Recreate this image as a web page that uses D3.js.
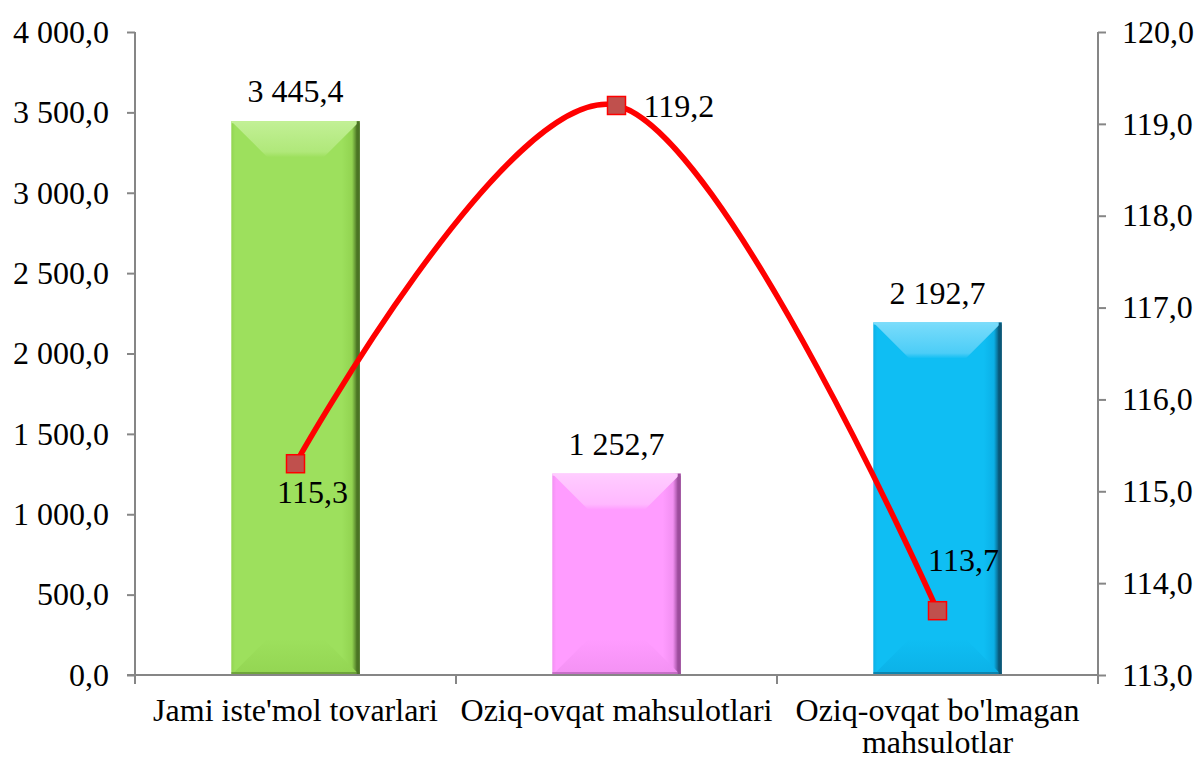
<!DOCTYPE html>
<html><head><meta charset="utf-8">
<script src="https://cdn.jsdelivr.net/npm/d3@7"></script>
<style>body{margin:0;background:#fff}svg{display:block}</style>
</head><body>
<svg id="c" width="1200" height="760"></svg>
<script>
const categories = [["Jami iste'mol tovarlari"], ["Oziq-ovqat mahsulotlari"], ["Oziq-ovqat bo'lmagan", "mahsulotlar"]];
const barValues = [3445.4, 1252.7, 2192.7];
const indexValues = [115.3, 119.2, 113.7];
const leftTicks = [0, 500, 1000, 1500, 2000, 2500, 3000, 3500, 4000];
const rightTicks = [113, 114, 115, 116, 117, 118, 119, 120];
const barColors = [
  {face:"#9de05d", light:"#c2f096", mid:"#92d451", dark:"#4a7424", edge:"#b0e87a"},
  {face:"#ff9cff", light:"#ffccff", mid:"#f290f2", dark:"#9c4c9c", edge:"#ffb8ff"},
  {face:"#0fbef3", light:"#7adcfb", mid:"#0bb0e6", dark:"#0a5878", edge:"#4ccdf7"}
];
const labelPos = ["below", "right", "aboveRight"];

const FONT = "Liberation Serif", FS = "32px";
const loc = d3.formatLocale({decimal: ",", thousands: " ", grouping: [3], currency: ["", ""]});
const fmt = loc.format(",.1f");

const svg = d3.select("#c");
const L = 135, R = 1098, T = 32, B = 675;
const x = d3.scaleBand().domain(d3.range(categories.length)).range([L, R]).paddingInner(0.6).paddingOuter(0.3);
const xc = d3.scaleBand().domain(d3.range(categories.length)).range([L, R]);
const yL = d3.scaleLinear().domain([0, 4000]).range([B, T]);
const yR = d3.scaleLinear().domain([113, 120]).range([B, T]);

function txt(sel) { return sel.style("font-family", FONT).style("font-size", FS).style("fill", "#000"); }

const defs = svg.append("defs");
barColors.forEach((c, i) => {
  const g = defs.append("linearGradient").attr("id", "h" + i).attr("x1", 0).attr("x2", 1).attr("y1", 0).attr("y2", 0);
  [[0, c.mid], [0.03, c.face], [0.86, c.face], [0.94, c.mid], [0.98, c.dark], [1, c.dark]].forEach(s => g.append("stop").attr("offset", s[0]).attr("stop-color", s[1]));
  const t = defs.append("linearGradient").attr("id", "t" + i).attr("x1", 0).attr("x2", 0).attr("y1", 0).attr("y2", 1);
  [[0, c.light], [0.85, c.edge], [1, c.face]].forEach(s => t.append("stop").attr("offset", s[0]).attr("stop-color", s[1]));
  const b = defs.append("linearGradient").attr("id", "b" + i).attr("x1", 0).attr("x2", 0).attr("y1", 0).attr("y2", 1);
  [[0, c.face], [1, c.mid]].forEach(s => b.append("stop").attr("offset", s[0]).attr("stop-color", s[1]));
});

const axL = svg.append("g").attr("transform", `translate(${L},0)`)
  .call(d3.axisLeft(yL).tickValues(leftTicks).tickFormat(fmt).tickSize(8).tickPadding(18));
const axR = svg.append("g").attr("transform", `translate(${R},0)`)
  .call(d3.axisRight(yR).tickValues(rightTicks).tickFormat(fmt).tickSize(8).tickPadding(16));
[axL, axR].forEach(a => {
  a.select(".domain").attr("d", `M0,${T}V${B}`).attr("stroke", "#868686").attr("stroke-width", 2);
  a.selectAll(".tick line").attr("stroke", "#868686").attr("stroke-width", 2);
  txt(a.selectAll("text"));
});

const bev = 36;
barValues.forEach((v, i) => {
  const x0 = x(i), w = x.bandwidth(), x1 = x0 + w, y0 = yL(v), y1 = yL(0);
  const g = svg.append("g");
  g.append("rect").attr("x", x0).attr("y", y0).attr("width", w).attr("height", y1 - y0).attr("fill", `url(#h${i})`);
  g.append("polygon").attr("points", [[x0, y0], [x1, y0], [x1 - bev, y0 + bev], [x0 + bev, y0 + bev]].join(" ")).attr("fill", `url(#t${i})`);
  g.append("polygon").attr("points", [[x0, y1], [x1, y1], [x1 - bev, y1 - bev], [x0 + bev, y1 - bev]].join(" ")).attr("fill", `url(#b${i})`).attr("opacity", 0.9);
  g.append("rect").attr("x", x0).attr("y", y0).attr("width", w).attr("height", 2).attr("fill", barColors[i].light);
  g.append("rect").attr("x", x1 - 3).attr("y", y0).attr("width", 3).attr("height", y1 - y0).attr("fill", barColors[i].dark);
  g.append("rect").attr("x", x0).attr("y", y1 - 3).attr("width", w).attr("height", 3).attr("fill", barColors[i].dark).attr("opacity", 0.5);
  txt(svg.append("text").attr("x", x0 + w / 2).attr("y", y0 - 19).attr("text-anchor", "middle")).text(fmt(v));
});

svg.append("line").attr("x1", L - 8).attr("x2", R).attr("y1", B).attr("y2", B).attr("stroke", "#868686").attr("stroke-width", 2);
d3.range(categories.length + 1).forEach(i => {
  const xx = i < categories.length ? xc(i) : R;
  svg.append("line").attr("x1", xx).attr("x2", xx).attr("y1", B).attr("y2", B + 9).attr("stroke", "#868686").attr("stroke-width", 2);
});
categories.forEach((lines, i) => {
  const cx = xc(i) + xc.bandwidth() / 2;
  const t = txt(svg.append("text").attr("x", cx).attr("y", 721).attr("text-anchor", "middle"));
  lines.forEach((s, j) => t.append("tspan").attr("x", cx).attr("dy", j ? 32 : 0).text(s));
});

const pts = indexValues.map((v, i) => [x(i) + x.bandwidth() / 2, yR(v)]);
svg.append("path").attr("d", d3.line().curve(d3.curveCardinal.tension(0))(pts)).attr("fill", "none").attr("stroke", "#ff0000").attr("stroke-width", 5.5);
pts.forEach(p => svg.append("rect").attr("x", p[0] - 9).attr("y", p[1] - 9).attr("width", 18).attr("height", 18).attr("fill", "#c0504d").attr("stroke", "#ff0000").attr("stroke-width", 1.5));
indexValues.forEach((v, i) => {
  const p = pts[i];
  let tx = p[0], ty = p[1], anchor = "middle";
  if (labelPos[i] === "below") { tx = p[0] + 17; ty = p[1] + 39; }
  else if (labelPos[i] === "right") { tx = p[0] + 27; ty = p[1] + 12; anchor = "start"; }
  else { tx = p[0] + 26; ty = p[1] - 40; }
  txt(svg.append("text").attr("x", tx).attr("y", ty).attr("text-anchor", anchor)).text(fmt(v));
});
</script>
</body></html>
